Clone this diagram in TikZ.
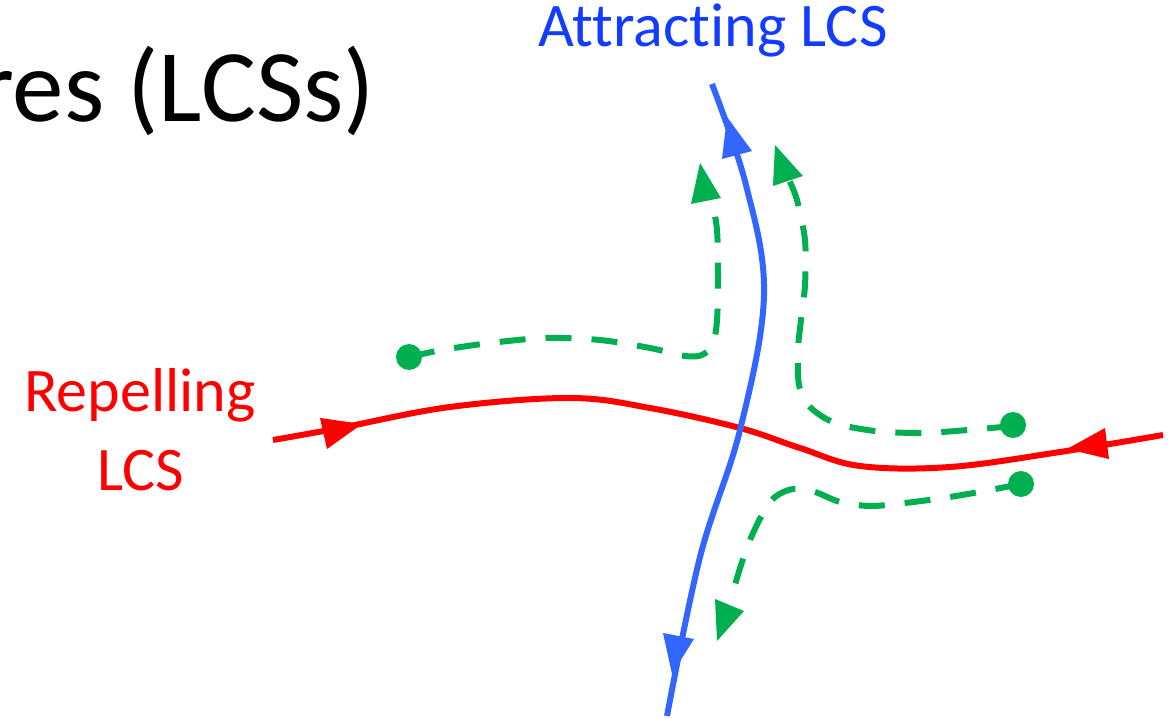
\documentclass[tikz,border=0pt]{standalone}
\usepackage{fontspec}
\setmainfont[Ligatures=NoCommon]{Carlito}
\definecolor{lblue}{RGB}{51,102,255}
\definecolor{tblue}{RGB}{20,60,255}
\definecolor{lgreen}{RGB}{0,176,80}
\begin{document}
\begin{tikzpicture}[x=1pt,y=-1pt,
  redline/.style={draw=red,line width=6pt,line cap=butt},
  blueline/.style={draw=lblue,line width=6pt},
  greenline/.style={draw=lgreen,line width=6pt,dash pattern=on 26pt off 20pt},
  tip/.style={fill=#1,draw=none},
  dotmark/.style={fill=lgreen,draw=none},
  lbl/.style={inner sep=0pt,font=\fontsize{62}{70}\selectfont}]
\useasboundingbox (0,0) rectangle (1171,719);
% title fragment
\node[inner sep=0pt,anchor=base east,font=\fontsize{103}{112}\selectfont] (title) at (375,122) {res (LCSs)};
% labels
\node[lbl,text=tblue,anchor=base] (att) at (713,47) {Attracting LCS};
\node[lbl,text=red,anchor=base] (rep1) at (140,412) {Repelling};
\node[lbl,text=red,anchor=base] (rep2) at (141,490) {LCS};
% repelling curve
\draw[redline] plot[smooth,tension=0.6] coordinates {(273,440) (340,428) (450,407) (570,398) (650,408) (740,428) (800,448) (860,466) (950,467) (1060,452) (1163,435)};
\fill[tip=red] (362,424) -- (320,418) -- (327,449) -- cycle;
\fill[tip=red] (1067,449) -- (1105,428) -- (1109,459) -- cycle;
% attracting curve
\draw[blueline] plot[smooth,tension=0.6] coordinates {(712,84) (746,185) (764,295) (740,430) (700,557) (667,716)};
\fill[tip=lblue] (727,117) -- (722,159) -- (752,151) -- cycle;
\fill[tip=lblue] (672,674) -- (663,633) -- (694,639) -- cycle;
% green trajectories
\fill[dotmark] (409,357) circle (13);
\draw[greenline] plot[smooth,tension=0.5] coordinates {(409,357) (442,350) (490,343) (545,338) (600,340) (650,348) (685,356) (702,355) (713,344) (717,320) (718,280) (717,230) (711,195)};
\fill[tip=lgreen] (700,163) -- (691,204) -- (721,198) -- cycle;
\fill[dotmark] (1013,425) circle (13);
\draw[greenline] plot[smooth,tension=0.5] coordinates {(1013,426) (968,430) (922,433) (875,431) (835,423) (810,407) (799,385) (798,350) (801,320) (805,285) (805,240) (797,200) (789,180)};
\fill[tip=lgreen] (775,145) -- (773,186) -- (803,176) -- cycle;
\fill[dotmark] (1021,484) circle (13);
\draw[greenline] plot[smooth,tension=0.5] coordinates {(1021,484) (990,490) (950,497) (905,503) (870,506) (840,502) (815,492) (793,489) (775,497) (762,515) (750,540) (741,565) (732,595)};
\fill[tip=lgreen] (717,641) -- (715,599) -- (744,611) -- cycle;
\end{tikzpicture}
\end{document}
